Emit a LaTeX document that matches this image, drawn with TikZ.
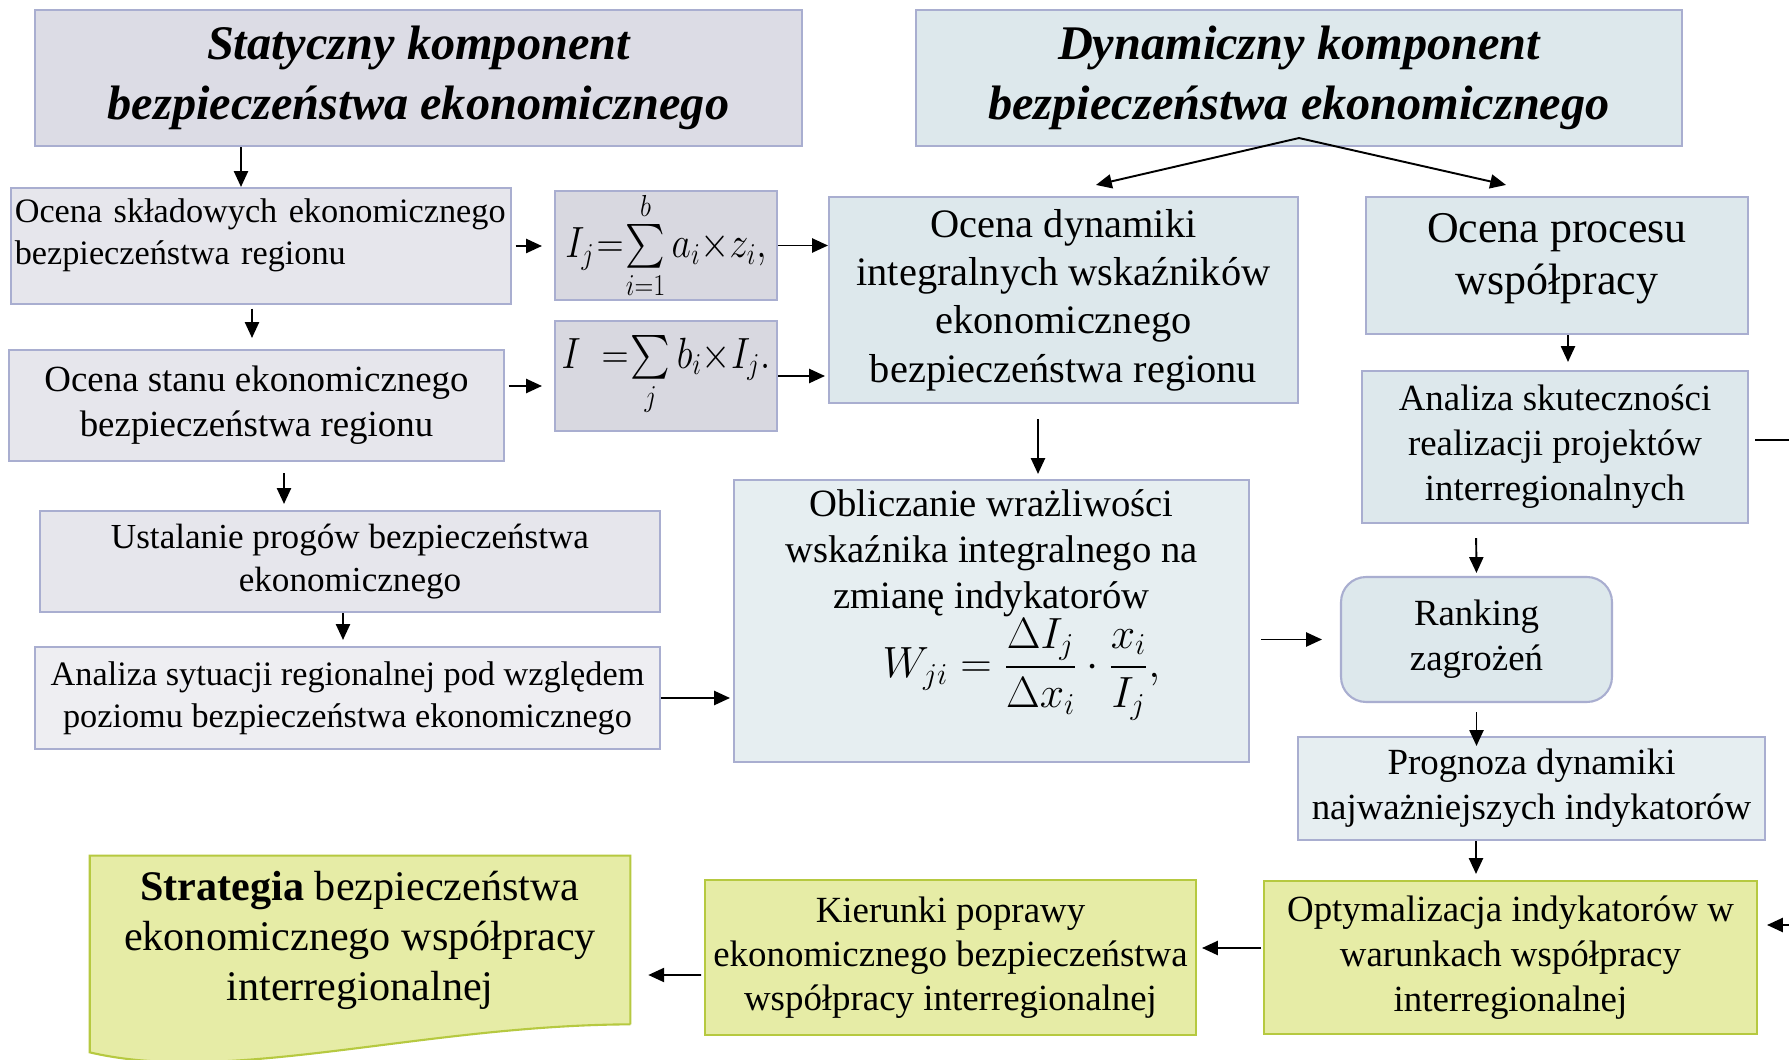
\documentclass[tikz,border=0pt]{standalone}
\usepackage{fontspec}
\setmainfont{Liberation Serif}
\usepackage{amsmath}
\usetikzlibrary{arrows.meta,calc}
\definecolor{bordlav}{HTML}{A9AED0}
\definecolor{headgrey}{HTML}{DCDCE5}
\definecolor{formgrey}{HTML}{D8D8E0}
\definecolor{lightgrey}{HTML}{E6E6EC}
\definecolor{palegrey}{HTML}{EEEEF2}
\definecolor{dynblue}{HTML}{DDE8EC}
\definecolor{paleblue}{HTML}{E6EEF1}
\definecolor{palegreen}{HTML}{E6ECA6}
\definecolor{greenbord}{HTML}{B6C940}
\newcommand{\tightmath}{\thickmuskip=1mu \medmuskip=0mu\relax}

\begin{document}
\begin{tikzpicture}[x=0.02cm,y=-0.02cm,
  box/.style={draw=bordlav,line width=1.2pt,inner sep=0pt,align=center},
  statbox/.style={box,fill=lightgrey},
  dynbox/.style={box,fill=dynblue},
  strbox/.style={box,draw=greenbord,fill=palegreen},
  headfont/.style={font=\fontsize{27.5}{34}\selectfont\bfseries\itshape},
  formfont/.style={font=\fontsize{24.5}{28}\selectfont},
  arr/.style={line width=1.1pt,-{Triangle[length=9pt,width=8pt]}}]
\fill[white] (0,0) rectangle (1789,1060);
\clip (0,0) rectangle (1789,1060);
% headers
\node[statbox,fill=headgrey,headfont,minimum width=15.34cm,minimum height=2.72cm] (stat) at (418.5,78)
  {Statyczny komponent\\bezpieczeństwa ekonomicznego};
\node[dynbox,headfont,minimum width=15.32cm,minimum height=2.72cm] (dyn) at (1299,78)
  {Dynamiczny komponent\\bezpieczeństwa ekonomicznego};
% static part
\node[statbox,minimum width=10cm,minimum height=2.32cm,text width=9.85cm,align=left,text depth=1.4cm,
  font=\fontsize{19.5}{23.5}\selectfont] (skl) at (261,246)
  {Ocena składowych ekonomicznego\\bezpieczeństwa regionu};
\node[statbox,fill=formgrey,minimum width=4.44cm,minimum height=2.18cm,formfont] (f1) at (666,245.5)
  {\scalebox{0.86}[1]{$\tightmath I_j=\sum\limits_{i=1}^{b}a_i\times z_i,$}};
\node[statbox,minimum width=9.9cm,minimum height=2.22cm,
  font=\fontsize{21}{25.6}\selectfont] (stan) at (256.5,405.5)
  {Ocena stanu ekonomicznego\\bezpieczeństwa regionu};
\node[statbox,fill=formgrey,minimum width=4.44cm,minimum height=2.2cm,formfont] (f2) at (666,376)
  {\scalebox{0.86}[1]{$\tightmath I\mskip9mu=\sum\limits_{j}b_i\times I_j.$}};
\node[statbox,minimum width=12.4cm,minimum height=2.02cm,
  font=\fontsize{20}{24}\selectfont] (ust) at (350,561.5)
  {Ustalanie progów bezpieczeństwa\\ekonomicznego};
\node[statbox,fill=palegrey,minimum width=12.5cm,minimum height=2.04cm,
  font=\fontsize{19.5}{24}\selectfont] (syt) at (347.5,698)
  {Analiza sytuacji regionalnej pod względem\\poziomu bezpieczeństwa ekonomicznego};
% dynamic part
\node[dynbox,minimum width=9.38cm,minimum height=4.12cm,
  font=\fontsize{23}{27.5}\selectfont] (odyn) at (1063.5,300)
  {Ocena dynamiki\\integralnych wskaźników\\ekonomicznego\\bezpieczeństwa regionu};
\node[dynbox,minimum width=7.64cm,minimum height=2.74cm,text depth=0.45cm,
  font=\fontsize{25}{29.6}\selectfont] (proc) at (1557,265.5)
  {Ocena procesu\\współpracy};
\node[dynbox,minimum width=7.72cm,minimum height=3.04cm,
  font=\fontsize{21}{25.6}\selectfont] (anal) at (1555,447)
  {Analiza skuteczności\\realizacji projektów\\interregionalnych};
\node[dynbox,fill=paleblue,minimum width=10.3cm,minimum height=5.64cm] (obl) at (991.5,621) {};
\node[align=center,font=\fontsize{22}{26}\selectfont] (obltxt) at ($(obl.center)+(0,-16)$)
  {Obliczanie wrażliwości\\wskaźnika integralnego na\\zmianę indykatorów\\
   \hspace*{1.2cm}\fontsize{25}{30}\selectfont$\displaystyle W_{ji}=\frac{\Delta I_j}{\Delta x_i}\cdot\frac{x_i}{I_j},$};
\node[dynbox,rounded corners=0.5cm,minimum width=5.42cm,minimum height=2.5cm,
  font=\fontsize{21}{25.6}\selectfont] (rank) at (1476.5,639.5)
  {Ranking\\zagrożeń};
\node[dynbox,fill=paleblue,minimum width=9.34cm,minimum height=2.06cm,
  font=\fontsize{21}{25.6}\selectfont] (prog) at (1531.5,788.5)
  {Prognoza dynamiki\\najważniejszych indykatorów};
% results
\node[strbox,minimum width=9.86cm,minimum height=3.06cm,
  font=\fontsize{21}{25.6}\selectfont] (opt) at (1510.5,957.5)
  {Optymalizacja indykatorów w\\warunkach współpracy\\interregionalnej};
\node[strbox,minimum width=9.82cm,minimum height=3.1cm,
  font=\fontsize{21}{25}\selectfont] (kier) at (950.5,957.5)
  {Kierunki poprawy\\ekonomicznego bezpieczeństwa\\współpracy interregionalnej};
\node[minimum width=10.8cm,minimum height=3.36cm,inner sep=0pt] (strat) at (360,940) {};
\draw[draw=greenbord,fill=palegreen,line width=1.2pt] (strat.south east) -- (strat.north east)
  -- (strat.north west) -- ($(strat.south west)+(0,28)$)
  .. controls ($(strat.south west)+(140,61)$) and ($(strat.south west)+(330,1)$) .. (strat.south east);
\node[align=center,font=\fontsize{24}{28.5}\selectfont] at (strat.center)
  {\textbf{Strategia} bezpieczeństwa\\ekonomicznego współpracy\\interregionalnej};
% free ends at the right border
\coordinate (edgeA) at (1789,440);
\coordinate (edgeB) at (1789,925);
\coordinate (aout) at ($(anal.east)+(0,-7)$);
% connectors
\draw[arr] ($(stat.south)+(-177.5,0)$) -- ($(skl.north)+(-20,0)$);
\draw[arr,shorten <=2pt,shorten >=0.24cm] (skl.east) -- (skl.east -| f1.west);
\draw[arr] (f1.east) -- (f1.east -| odyn.west);
\draw[arr,shorten <=2pt,shorten >=0.22cm] ($(skl.south)+(-9,0)$) -- ($(stan.north)+(-4.5,0)$);
\draw[arr,shorten <=2pt,shorten >=0.24cm] ($(stan.east)+(0,-19.5)$) -- ($(f2.west)+(0,10)$);
\draw[arr,shorten >=0.06cm] (f2.east) -- (f2.east -| odyn.west);
\draw[arr,shorten <=0.22cm,shorten >=0.12cm] ($(stan.south)+(27.5,0)$) -- ($(ust.north)+(-66,0)$);
\draw[arr,shorten >=0.12cm] ($(ust.south)+(-7,0)$) -- ($(syt.north)+(-4.5,0)$);
\draw[arr,shorten >=0.06cm] (syt.east) -- (syt.east -| obl.west);
\draw[arr,shorten <=0.3cm,shorten >=0.1cm] ($(odyn.south)+(-25.5,0)$) -- ($(obl.north)+(46.5,0)$);
\draw[arr] ($(dyn.south)+(0,-9)$) -- ($(odyn.north)+(32.5,-11)$);
\draw[arr] ($(dyn.south)+(0,-9)$) -- ($(proc.north)+(-51,-11)$);
\draw[arr,shorten >=0.16cm] ($(proc.south)+(11,0)$) -- ($(anal.north)+(13,0)$);
\draw[line width=1.1pt,shorten <=0.12cm] (aout) -- (aout -| edgeA);
\draw[arr,shorten <=0.28cm,shorten >=0.06cm] ($(anal.south)+(-79,0)$) -- (rank.north);
\draw[arr,shorten <=0.22cm,shorten >=0.36cm] (rank.west -| obl.east) -- (rank.west);
\draw[arr,shorten <=0.18cm] (rank.south) -- ($(prog.north)+(-55,10)$);
\draw[arr,shorten >=0.12cm] ($(prog.south)+(-55.5,0)$) -- ($(opt.north)+(-34.5,0)$);
\draw[arr,shorten >=0.18cm] (edgeB) -- (edgeB -| opt.east);
\draw[arr,shorten <=0.04cm,shorten >=0.1cm] ($(opt.west)+(0,-9.5)$) -- ($(kier.east)+(0,-9.5)$);
\draw[arr,shorten <=0.06cm,shorten >=0.36cm] ($(kier.west)+(0,17.5)$) -- ($(strat.east)+(0,35)$);
\end{tikzpicture}
\end{document}
